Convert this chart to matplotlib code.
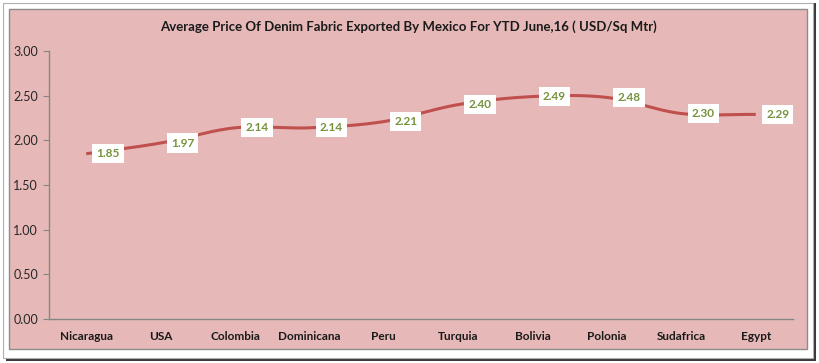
"""
Line chart: average price of denim fabric exported by Mexico, YTD June 2016.
"""
import matplotlib.pyplot as plt
from matplotlib.patches import Rectangle
import numpy as np

# ---- Data ----
COUNTRIES = ['Nicaragua', 'USA', 'Colombia', 'Dominicana', 'Peru',
             'Turquia', 'Bolivia', 'Polonia', 'Sudafrica', 'Egypt']
PRICES = [1.85, 1.97, 2.14, 2.14, 2.21, 2.40, 2.49, 2.48, 2.30, 2.29]
Y_TICKS = [0.0, 0.5, 1.0, 1.5, 2.0, 2.5, 3.0]

BG = '#e6b9b8'
LINE = '#c0504d'
LABEL_GREEN = '#76923c'
AXIS_GREY = '#868686'

plt.rcParams['font.family'] = ['Lato', 'DejaVu Sans']

W, H = 820, 363
fig = plt.figure(figsize=(W / 100, H / 100), dpi=100)
fig.patch.set_facecolor('white')


def fx(px):
    return px / W


def fy(py):
    return 1 - py / H


# outer frame with shadow
fig.patches.append(Rectangle((fx(6), fy(361)), fx(810), 358 / H, transform=fig.transFigure,
                             facecolor='#3a3a3a', edgecolor='none', zorder=-3))
fig.patches.append(Rectangle((fx(3), fy(358)), fx(810), 355 / H, transform=fig.transFigure,
                             facecolor='white', edgecolor='#b0b0b0', linewidth=0.8, zorder=-2))
# chart area
fig.patches.append(Rectangle((fx(9), fy(349)), fx(798), 340 / H, transform=fig.transFigure,
                             facecolor=BG, edgecolor='#8c8c8c', linewidth=1.0, zorder=-1))

ax = fig.add_axes([fx(49), fy(319), fx(793 - 49), 268 / H])
ax.set_facecolor('none')
ax.set_zorder(2)

x = np.arange(len(COUNTRIES))
y = np.array(PRICES)


# Catmull-Rom style smoothing (like Excel's smoothed line)
def smooth(xs, ys, n=30):
    px = np.concatenate([[2 * xs[0] - xs[1]], xs, [2 * xs[-1] - xs[-2]]])
    py = np.concatenate([[2 * ys[0] - ys[1]], ys, [2 * ys[-1] - ys[-2]]])
    out_x, out_y = [], []
    t = np.linspace(0, 1, n)
    for i in range(1, len(px) - 2):
        p0, p1, p2, p3 = [np.array([px[j], py[j]]) for j in range(i - 1, i + 3)]
        c1 = p1 + (p2 - p0) / 6
        c2 = p2 - (p3 - p1) / 6
        for tt in t:
            b = ((1 - tt) ** 3) * p1 + 3 * ((1 - tt) ** 2) * tt * c1 \
                + 3 * (1 - tt) * tt ** 2 * c2 + tt ** 3 * p2
            out_x.append(b[0])
            out_y.append(b[1])
    return np.array(out_x), np.array(out_y)


sx, sy = smooth(x.astype(float), y)
ax.plot(sx, sy, color=LINE, linewidth=2.2, solid_capstyle='butt', zorder=2)

for xi, yi in zip(x, y):
    ax.annotate(f'{yi:.2f}', (xi, yi), xytext=(7.5, 0), textcoords='offset points',
                ha='left', va='center', fontsize=8.5, weight='bold', color=LABEL_GREEN,
                bbox=dict(boxstyle='square,pad=0.35', facecolor='white', edgecolor='none'),
                zorder=3)

ax.set_xlim(-0.5, len(COUNTRIES) - 0.5)
ax.set_ylim(0, 3)
ax.set_yticks(Y_TICKS)
ax.set_yticklabels([f'{v:.2f}' for v in Y_TICKS])
ax.set_xticks(x)
ax.set_xticklabels(COUNTRIES, weight='bold')

for side in ['top', 'right']:
    ax.spines[side].set_visible(False)
for side in ['left', 'bottom']:
    ax.spines[side].set_color(AXIS_GREY)
    ax.spines[side].set_linewidth(1.0)
ax.tick_params(axis='y', length=4, color=AXIS_GREY, labelsize=9, labelcolor='#262626', pad=4)
ax.tick_params(axis='x', length=0, labelsize=8.5, labelcolor='#1a1a1a', pad=9)

fig.text(fx(408), fy(27), 'Average Price Of Denim Fabric Exported By Mexico For YTD June,16 ( USD/Sq Mtr)',
         ha='center', va='center', fontsize=9.5, weight='bold', color='#1a1a1a')

fig.savefig('out.png', dpi=100, facecolor='white')
